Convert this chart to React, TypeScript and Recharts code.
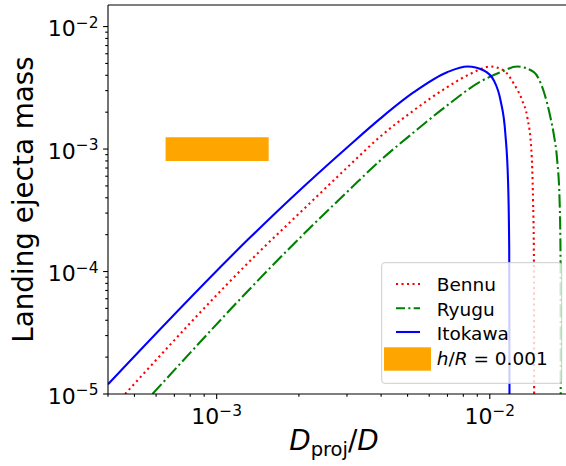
import React from 'react';
import { LineChart, Line, XAxis, YAxis, ReferenceArea, ReferenceLine } from 'recharts';

const xTicks = [4e-4, 5e-4, 6e-4, 7e-4, 8e-4, 9e-4, 1e-3, 2e-3, 3e-3, 4e-3, 5e-3, 6e-3, 7e-3, 8e-3, 9e-3, 1e-2];
const yTicks = [
  1e-5, 2e-5, 3e-5, 4e-5, 5e-5, 6e-5, 7e-5, 8e-5, 9e-5,
  1e-4, 2e-4, 3e-4, 4e-4, 5e-4, 6e-4, 7e-4, 8e-4, 9e-4,
  1e-3, 2e-3, 3e-3, 4e-3, 5e-3, 6e-3, 7e-3, 8e-3, 9e-3,
  1e-2,
];

const itokawa = [
  { x: 4.0e-4, y: 1.2e-5 },
  { x: 1.33e-3, y: 1.91e-4 },
  { x: 1.84e-3, y: 3.82e-4 },
  { x: 3.09e-3, y: 1.09e-3 },
  { x: 3.98e-3, y: 1.78e-3 },
  { x: 5.27e-3, y: 2.91e-3 },
  { x: 6.98e-3, y: 4.24e-3 },
  { x: 8.3e-3, y: 4.72e-3 },
  { x: 9.51e-3, y: 4.38e-3 },
  { x: 1.035e-2, y: 3.63e-3 },
  { x: 1.095e-2, y: 2.49e-3 },
  { x: 1.14e-2, y: 1.34e-3 },
  { x: 1.167e-2, y: 5.25e-4 },
  { x: 1.178e-2, y: 1.49e-4 },
  { x: 1.183e-2, y: 1e-6 },
];

const bennu = [
  { x: 4.62e-4, y: 1.0e-5 },
  { x: 1.45e-3, y: 1.49e-4 },
  { x: 2.03e-3, y: 3.06e-4 },
  { x: 3.09e-3, y: 7.5e-4 },
  { x: 3.98e-3, y: 1.27e-3 },
  { x: 5.27e-3, y: 2.07e-3 },
  { x: 6.98e-3, y: 3.2e-3 },
  { x: 8.49e-3, y: 4.11e-3 },
  { x: 1.006e-2, y: 4.72e-3 },
  { x: 1.125e-2, y: 4.38e-3 },
  { x: 1.225e-2, y: 3.41e-3 },
  { x: 1.315e-2, y: 2.49e-3 },
  { x: 1.372e-2, y: 1.82e-3 },
  { x: 1.42e-2, y: 9.75e-4 },
  { x: 1.44e-2, y: 3.82e-4 },
  { x: 1.45e-2, y: 1.49e-4 },
  { x: 1.455e-2, y: 1e-6 },
];

const ryugu = [
  { x: 5.82e-4, y: 1.0e-5 },
  { x: 1.815e-3, y: 1.49e-4 },
  { x: 3.09e-3, y: 4.75e-4 },
  { x: 3.98e-3, y: 8.09e-4 },
  { x: 5.27e-3, y: 1.37e-3 },
  { x: 6.98e-3, y: 2.27e-3 },
  { x: 9.25e-3, y: 3.56e-3 },
  { x: 1.095e-2, y: 4.24e-3 },
  { x: 1.259e-2, y: 4.72e-3 },
  { x: 1.45e-2, y: 4.24e-3 },
  { x: 1.576e-2, y: 2.95e-3 },
  { x: 1.667e-2, y: 1.82e-3 },
  { x: 1.714e-2, y: 1.33e-3 },
  { x: 1.765e-2, y: 8.09e-4 },
  { x: 1.8e-2, y: 4.0e-4 },
  { x: 1.815e-2, y: 1.5e-4 },
  { x: 1.82e-2, y: 1e-6 },
];

const boxX = [6.5e-4, 1.55e-3];
const boxY = [8.0e-4, 1.25e-3];

const FONT = 'DejaVu Sans';

const isMajor = (v: number) => {
  const e = Math.log10(v);
  return Math.abs(e - Math.round(e)) < 1e-6;
};

const XTick = (props: any) => {
  const { x, y, payload } = props;
  const v = payload.value;
  const major = isMajor(v);
  const e = Math.round(Math.log10(v));
  return (
    <g>
      <line x1={x} x2={x} y1={y} y2={y + (major ? 4.9 : 2.8)} stroke="#000" strokeWidth={1.1} />
      {major && (
        <text x={x} y={y + 30} textAnchor="middle" fontSize={22} fontFamily={FONT} fill="#000">
          10<tspan fontSize={15.4} dy={-8.5}>{'\u2212' + String(-e)}</tspan>
        </text>
      )}
    </g>
  );
};

const YTick = (props: any) => {
  const { x, y, payload } = props;
  const v = payload.value;
  const major = isMajor(v);
  const e = Math.round(Math.log10(v));
  return (
    <g>
      <line x1={x} x2={x - (major ? 4.9 : 2.8)} y1={y} y2={y} stroke="#000" strokeWidth={1.1} />
      {major && (
        <text x={x - 9.5} y={y + 9.5} textAnchor="end" fontSize={22} fontFamily={FONT} fill="#000">
          10<tspan fontSize={15.4} dy={-8.5}>{'\u2212' + String(-e)}</tspan>
        </text>
      )}
    </g>
  );
};

const RED_DASH = '2.1 3.4';
const GREEN_DASH = '13.3 3.3 2.1 3.3';
const LEG_FS = 18.5;

export default function App() {
  return (
    <div style={{ position: 'absolute', left: 0, top: 0, width: 566, height: 466, overflow: 'hidden', background: '#fff' }}>
      <LineChart width={580} height={466} margin={{ top: 5, right: 8, bottom: 0, left: 8 }}>
        <XAxis
          dataKey="x"
          type="number"
          scale="log"
          domain={[4e-4, 2e-2]}
          allowDataOverflow
          ticks={xTicks}
          interval={0}
          tick={(p: any) => <XTick {...p} />}
          tickLine={false}
          tickSize={0}
          tickMargin={0}
          height={72}
          axisLine={{ stroke: '#000', strokeWidth: 1.1 }}
        />
        <YAxis
          dataKey="y"
          type="number"
          scale="log"
          domain={[1e-5, 1.5e-2]}
          allowDataOverflow
          ticks={yTicks}
          interval={0}
          tick={(p: any) => <YTick {...p} />}
          tickLine={false}
          tickSize={0}
          tickMargin={0}
          width={100}
          axisLine={{ stroke: '#000', strokeWidth: 1.1 }}
        />
        <ReferenceLine y={1.5e-2} stroke="#000" strokeWidth={1.1} />
        <ReferenceArea x1={boxX[0]} x2={boxX[1]} y1={boxY[0]} y2={boxY[1]} fill="#FFA500" fillOpacity={1} stroke="none" />
        <Line data={bennu} dataKey="y" type="monotone" stroke="#ff0000" strokeWidth={2.08} strokeDasharray={RED_DASH} dot={false} isAnimationActive={false} />
        <Line data={ryugu} dataKey="y" type="monotone" stroke="#008000" strokeWidth={2.08} strokeDasharray={GREEN_DASH} dot={false} isAnimationActive={false} />
        <Line data={itokawa} dataKey="y" type="monotone" stroke="#0000ff" strokeWidth={2.08} dot={false} isAnimationActive={false} />
      </LineChart>
      <svg width={566} height={466} style={{ position: 'absolute', left: 0, top: 0, pointerEvents: 'none' }}>
        <text x={33} y={199.5} transform="rotate(-90 33 199.5)" textAnchor="middle" fontSize={27.8} fontFamily={FONT} fill="#000">
          Landing ejecta mass
        </text>
        <text x={334} y={450} textAnchor="middle" fontSize={27.8} fontFamily={FONT} fill="#000">
          <tspan fontStyle="italic">D</tspan>
          <tspan fontSize={19.5} dy={6}>proj</tspan>
          <tspan dy={-6}>/</tspan>
          <tspan fontStyle="italic">D</tspan>
        </text>
        <g>
          <rect x={381.7} y={262.7} width={180} height={120.6} rx={3} ry={3} fill="#fff" fillOpacity={0.8} stroke="#cccccc" strokeWidth={1} />
          <line x1={396} x2={420} y1={284} y2={284} stroke="#ff0000" strokeWidth={2.08} strokeDasharray={RED_DASH} />
          <text x={436.7} y={291} fontSize={LEG_FS} fontFamily={FONT} fill="#000">Bennu</text>
          <line x1={396} x2={420} y1={308.3} y2={308.3} stroke="#008000" strokeWidth={2.08} strokeDasharray="9 3.3 2.1 3.3" />
          <text x={436.7} y={315.5} fontSize={LEG_FS} fontFamily={FONT} fill="#000">Ryugu</text>
          <line x1={396} x2={420} y1={332} y2={332} stroke="#0000ff" strokeWidth={2.08} />
          <text x={436.7} y={339.5} fontSize={LEG_FS} fontFamily={FONT} fill="#000">Itokawa</text>
          <rect x={384} y={347.3} width={47} height={23.4} fill="#FFA500" />
          <text x={436.7} y={364.5} fontSize={LEG_FS} fontFamily={FONT} fill="#000">
            <tspan fontStyle="italic">h</tspan>/<tspan fontStyle="italic">R</tspan>{' = 0.001'}
          </text>
        </g>
      </svg>
    </div>
  );
}
